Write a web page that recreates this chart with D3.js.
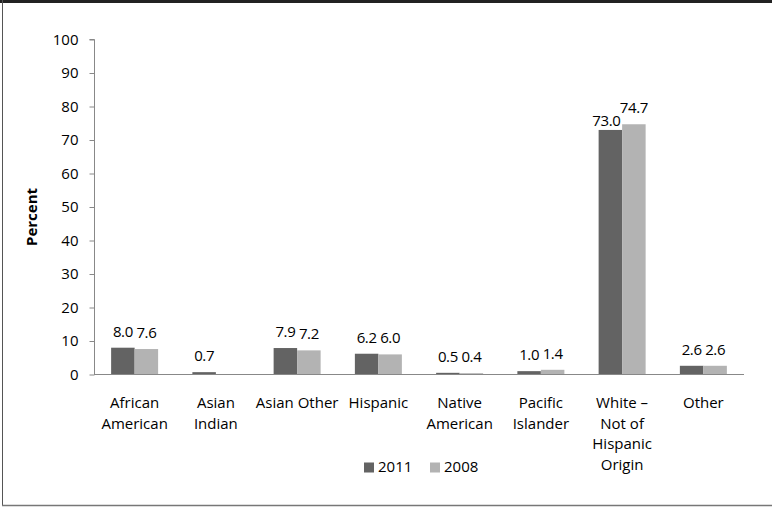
<!DOCTYPE html>
<html><head><meta charset="utf-8">
<script src="https://cdn.jsdelivr.net/npm/d3@7"></script>
<style>body{margin:0;background:#fff}svg{display:block}</style>
</head><body>
<script>
const categories = [["African","American"],["Asian","Indian"],["Asian Other"],["Hispanic"],["Native","American"],["Pacific","Islander"],["White –","Not of","Hispanic","Origin"],["Other"]];
const catKeys = categories.map(c => c.join(" "));
const series = ["2011","2008"];
const values2011 = [8.0, 0.7, 7.9, 6.2, 0.5, 1.0, 73.0, 2.6];
const values2008 = [7.6, null, 7.2, 6.0, 0.4, 1.4, 74.7, 2.6];
const yTicks = [0,10,20,30,40,50,60,70,80,90,100];
const colors = ["#636363","#b3b3b3"];

const W = 772, H = 507;
const font = "'Open Sans', Lato, sans-serif";
const fs = 15;
const svg = d3.select("body").append("svg").attr("width", W).attr("height", H);

// frame
svg.append("rect").attr("x",0).attr("y",0).attr("width",W).attr("height",3).attr("fill","#222");
svg.append("line").attr("x1",2.5).attr("x2",2.5).attr("y1",0).attr("y2",506).attr("stroke","#555").attr("stroke-width",1);
svg.append("line").attr("x1",2).attr("x2",W).attr("y1",505.5).attr("y2",505.5).attr("stroke","#777").attr("stroke-width",1.5);

const x0 = 94, x1 = 744, yTop = 39.5, yBot = 374.5;
const x = d3.scaleBand().domain(catKeys).range([x0, x1]).paddingInner(0).paddingOuter(0);
const y = d3.scaleLinear().domain([0,100]).range([yBot, yTop]);
const barW = 23.5;

// y axis
const yAxis = d3.axisLeft(y).tickValues(yTicks).tickSize(5).tickPadding(11).tickFormat(d3.format("d"));
const gy = svg.append("g").attr("transform", `translate(${x0 + 0.5},0)`).call(yAxis);
gy.selectAll("path, line").attr("stroke","#888");
gy.selectAll("text").attr("font-family", font).attr("font-size", fs).attr("fill","#000");
gy.select(".domain").attr("d", `M-5,${yTop}H0V${yBot}`);

// bars
const data = [values2011, values2008];
data.forEach((vals, si) => {
  const g = svg.append("g");
  vals.forEach((v, i) => {
    if (v === null) return;
    const cx = x(catKeys[i]) + x.bandwidth()/2;
    const bx = si === 0 ? cx - barW : cx;
    g.append("rect").attr("x", bx).attr("y", y(v)).attr("width", barW).attr("height", y(0) - y(v)).attr("fill", colors[si]);
  });
});

// x axis line
svg.append("line").attr("x1", x0).attr("x2", x1).attr("y1", yBot).attr("y2", yBot).attr("stroke","#888");

// data labels
data.forEach((vals, si) => {
  vals.forEach((v, i) => {
    if (v === null) return;
    const cx = x(catKeys[i]) + x.bandwidth()/2;
    let lx = si === 0 ? cx - barW/2 : cx + barW/2;
    let dy = 11;
    const other = si === 0 ? values2008[i] : values2011[i];
    if (other !== null && other - v > 1.2) { dy = 4; lx -= 4; }
    svg.append("text").attr("x", lx).attr("y", y(v) - dy)
      .attr("text-anchor","middle").attr("font-family", font).attr("font-size", fs).attr("fill","#000")
      .attr("letter-spacing", -0.4)
      .text(d3.format(".1f")(v));
  });
});

// category labels
categories.forEach((lines, i) => {
  const cx = x(catKeys[i]) + x.bandwidth()/2;
  const t = svg.append("text").attr("text-anchor","middle").attr("font-family", font).attr("font-size", fs).attr("fill","#000");
  lines.forEach((l, j) => t.append("tspan").attr("x", cx).attr("y", 408 + j*20.5).text(l));
});

// y title
svg.append("text").attr("transform", `translate(37,217) rotate(-90)`).attr("text-anchor","middle")
  .attr("font-family", font).attr("font-size", fs).attr("font-weight","bold").attr("fill","#000").text("Percent");

// legend
const leg = svg.append("g");
const legX = [364, 430];
series.forEach((s, i) => {
  leg.append("rect").attr("x", legX[i]).attr("y", 462.5).attr("width", 10).attr("height", 10).attr("fill", colors[i]);
  leg.append("text").attr("x", legX[i] + 14).attr("y", 472).attr("font-family", font).attr("font-size", fs).attr("fill","#000").text(s);
});
</script>
</body></html>
